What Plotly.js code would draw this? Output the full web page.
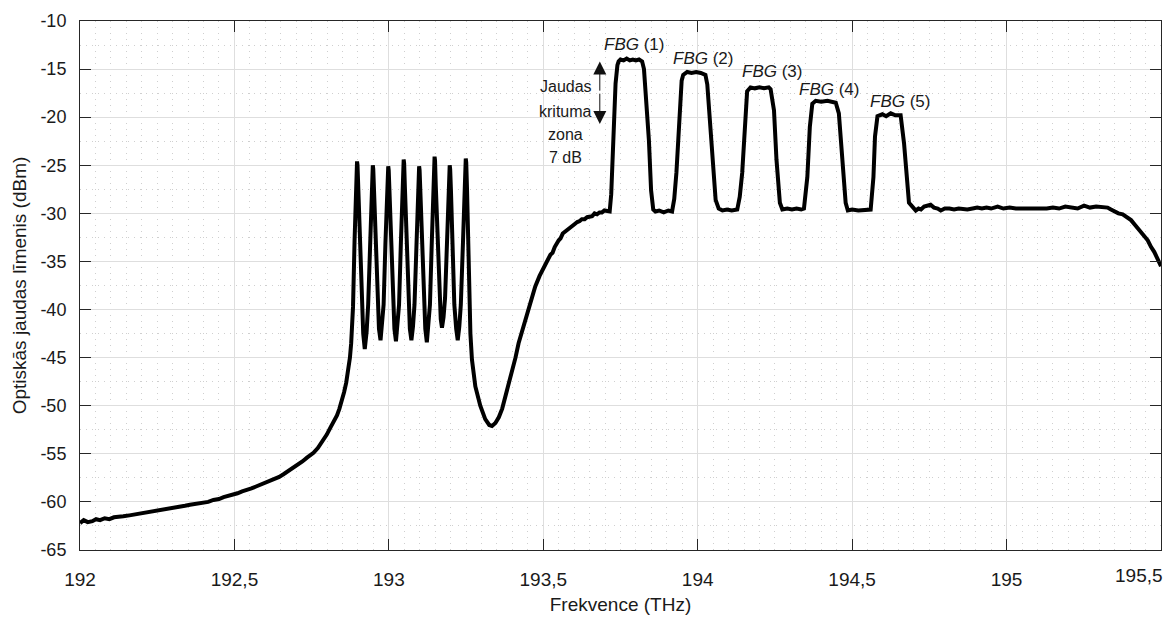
<!DOCTYPE html>
<html><head><meta charset="utf-8">
<script src="https://cdn.plot.ly/plotly-3.0.1.min.js"></script>
<style>html,body{margin:0;padding:0;background:#fff}#chart{width:1172px;height:623px}</style>
</head><body><div id="chart"></div>
<script>
// Spectrum readings (frequency in THz, optical power in dBm)
const freqTHz = [
192.000,192.012,192.025,192.040,192.052,192.065,192.080,192.095,192.110,192.125,
192.140,192.160,192.180,192.200,192.216,192.235,192.255,192.270,192.281,192.300,
192.320,192.340,192.356,192.375,192.395,192.415,192.432,192.450,192.465,192.480,
192.497,192.510,192.525,192.540,192.555,192.570,192.585,192.600,192.615,192.630,
192.645,192.660,192.675,192.691,192.705,192.720,192.735,192.756,192.770,192.785,
192.799,192.812,192.822,192.832,192.840,192.848,192.855,192.862,192.869,192.874,192.878,192.884,192.889,192.893,192.895,192.897,
192.8985,192.901,192.906,192.912,192.917,192.922,
192.928,192.933,192.939,192.944,192.9465,192.948,192.9495,192.952,192.957,192.963,192.968,192.973,
192.978,192.983,192.989,192.994,192.9965,192.998,192.9995,193.002,193.007,193.013,193.018,193.023,
193.028,193.033,193.039,193.044,193.0465,193.048,193.0495,193.052,193.057,193.063,193.068,193.073,
193.078,193.083,193.089,193.094,193.0965,193.098,193.0995,193.102,193.107,193.113,193.118,193.123,
193.128,193.133,193.139,193.144,193.1465,193.148,193.1495,193.152,193.157,193.163,193.168,193.172,
193.177,193.182,193.188,193.193,193.1955,193.197,193.1985,193.201,193.206,193.212,193.218,193.223,
193.228,193.233,193.240,193.245,193.2475,193.249,193.2505,193.253,193.258,193.264,193.269,193.280,
193.296,193.312,193.325,193.334,193.345,193.356,193.367,193.377,193.388,193.399,
193.410,193.420,193.434,193.448,193.461,193.474,193.488,193.501,193.512,193.523,
193.530,193.537,193.550,193.556,193.563,193.577,193.585,193.593,193.602,193.610,193.618,193.625,
193.634,193.642,193.650,193.658,193.666,193.674,193.682,193.690,193.698,193.707,193.715,
193.720,193.726,193.734,193.740,193.744,193.750,193.760,193.770,193.780,193.790,193.800,193.810,193.820,
193.826,193.831,193.842,193.849,193.856,193.863,193.875,193.890,193.905,193.917,
193.924,193.931,193.942,193.948,193.953,193.966,193.980,193.995,194.010,194.025,
194.031,194.036,194.047,194.058,194.068,194.080,194.095,194.110,194.128,
194.136,194.144,194.152,194.160,194.171,194.185,194.200,194.215,194.230,194.236,
194.247,194.255,194.266,194.274,194.290,194.305,194.320,194.335,194.344,
194.355,194.363,194.371,194.382,194.400,194.420,194.440,194.447,
194.457,194.468,194.479,194.486,194.500,194.520,194.540,194.560,
194.569,194.574,194.582,194.598,194.610,194.625,194.640,194.657,
194.668,194.677,194.684,194.695,194.706,194.715,194.723,194.733,194.742,194.754,
194.765,194.777,194.787,194.800,194.815,194.830,194.845,194.860,194.873,194.890,
194.905,194.920,194.935,194.950,194.971,194.990,195.010,195.030,195.050,195.070,
195.089,195.110,195.130,195.150,195.170,195.190,195.210,195.230,195.251,195.270,
195.290,195.310,195.327,195.338,195.348,195.362,195.376,195.390,195.403,195.416,
195.429,195.443,195.457,195.468,195.478,195.490,195.500
];
const powerDbm = [
-62.2,-61.9,-62.1,-62.0,-61.8,-61.9,-61.7,-61.8,-61.6,-61.6,
-61.5,-61.4,-61.3,-61.2,-61.1,-61.0,-60.9,-60.8,-60.8,-60.6,
-60.5,-60.4,-60.3,-60.2,-60.1,-60.0,-59.8,-59.7,-59.5,-59.4,
-59.2,-59.1,-58.9,-58.8,-58.6,-58.4,-58.2,-58.1,-57.9,-57.7,
-57.4,-57.1,-56.8,-56.5,-56.1,-55.8,-55.4,-54.9,-54.4,-53.7,
-53.0,-52.2,-51.6,-51.0,-50.3,-49.5,-48.6,-47.6,-46.3,-45.0,-43.5,-39.7,-32.8,-27.6,-25.5,-24.6,
-25.0,-27.6,-33.0,-39.5,-42.5,-44.1,
-42.3,-39.5,-33.0,-27.6,-25.4,-25.0,-25.4,-27.6,-33.0,-39.5,-42.0,-43.2,
-41.8,-39.5,-33.0,-27.6,-25.5,-25.1,-25.5,-27.6,-33.0,-39.5,-42.0,-43.3,
-41.8,-39.5,-33.0,-27.4,-24.8,-24.4,-24.8,-27.4,-33.0,-39.5,-42.0,-43.2,
-41.8,-39.5,-33.0,-27.6,-25.5,-25.1,-25.5,-27.6,-33.0,-39.5,-42.0,-43.4,
-41.8,-39.5,-33.0,-27.2,-24.5,-24.1,-24.5,-27.2,-32.5,-38.5,-41.0,-41.9,
-40.8,-38.8,-33.0,-27.6,-25.4,-25.0,-25.4,-27.6,-33.0,-39.5,-42.0,-43.2,
-41.8,-39.5,-33.0,-27.4,-24.7,-24.3,-24.7,-27.4,-36.0,-42.5,-45.2,-48.0,
-50.0,-51.4,-52.0,-52.1,-51.8,-51.2,-50.3,-49.1,-47.9,-46.6,
-45.0,-43.5,-41.9,-40.4,-39.0,-37.6,-36.5,-35.7,-35.0,-34.3,
-34.1,-33.5,-32.8,-32.6,-32.1,-31.7,-31.6,-31.3,-31.1,-30.9,-30.8,-30.6,
-30.6,-30.4,-30.3,-30.3,-30.0,-30.1,-29.9,-29.9,-29.7,-29.7,-29.8,
-28.0,-22.4,-16.5,-14.6,-14.2,-14.0,-14.1,-13.9,-14.1,-14.0,-14.1,-14.0,-14.2,
-15.0,-17.2,-22.4,-27.6,-29.6,-29.8,-29.7,-29.9,-29.7,-29.8,
-28.5,-25.8,-18.9,-16.2,-15.6,-15.3,-15.4,-15.3,-15.4,-15.6,
-16.6,-18.9,-24.1,-28.6,-29.5,-29.7,-29.6,-29.7,-29.6,
-28.3,-25.8,-20.6,-17.3,-16.9,-17.0,-16.9,-17.0,-16.9,-17.1,
-19.3,-24.4,-28.9,-29.6,-29.5,-29.6,-29.5,-29.6,-29.5,
-26.2,-21.0,-18.6,-18.3,-18.4,-18.3,-18.4,-18.5,
-19.6,-24.4,-28.9,-29.7,-29.6,-29.7,-29.6,-29.6,
-26.2,-22.0,-19.9,-19.7,-19.9,-19.6,-19.8,-19.8,
-22.7,-26.9,-28.9,-29.3,-29.7,-29.5,-29.6,-29.3,-29.2,-29.1,
-29.4,-29.5,-29.7,-29.5,-29.5,-29.6,-29.5,-29.6,-29.6,-29.5,
-29.4,-29.5,-29.4,-29.5,-29.3,-29.5,-29.4,-29.5,-29.5,-29.6,
-29.5,-29.6,-29.5,-29.4,-29.5,-29.3,-29.4,-29.5,-29.2,-29.4,
-29.3,-29.4,-29.4,-29.6,-29.8,-30.0,-30.1,-30.4,-30.7,-31.2,
-31.7,-32.2,-32.8,-33.5,-34.0,-34.8,-35.5
];
const xTickVals = [192, 192.5, 193, 193.5, 194, 194.5, 195];
const xTickText = ['192', '192,5', '193', '193,5', '194', '194,5', '195'];
const xLastTickText = '195,5';
const yTickVals = [-65, -60, -55, -50, -45, -40, -35, -30, -25, -20, -15, -10];
const yTickText = ['-65', '-60', '-55', '-50', '-45', '-40', '-35', '-30', '-25', '-20', '-15', '-10'];
const fbgLabels = ['<i>FBG</i> (1)', '<i>FBG</i> (2)', '<i>FBG</i> (3)', '<i>FBG</i> (4)', '<i>FBG</i> (5)'];
const noteLines = ['Jaudas', 'krituma', 'zona', '7 dB'];

const FONT = 'Liberation Sans, Arial, sans-serif';
const TXT = '#1a1a1a';

const fbgPos = [[193.795, -12.49], [194.017, -13.85], [194.239, -15.27], [194.424, -17.17], [194.654, -18.39]];
const notePos = [-16.86, -19.36, -21.85, -24.24];

const annotations = [];
fbgLabels.forEach((t, i) => annotations.push({
  x: fbgPos[i][0], y: fbgPos[i][1], xref: 'x', yref: 'y', text: t, showarrow: false,
  font: {family: FONT, size: 17, color: TXT}, xanchor: 'center', yanchor: 'middle'
}));
noteLines.forEach((t, i) => annotations.push({
  x: 193.572, y: notePos[i], xref: 'x', yref: 'y', text: t, showarrow: false,
  font: {family: FONT, size: 16, color: TXT}, xanchor: 'center', yanchor: 'middle'
}));
// double arrow
annotations.push({x: 193.683, y: -14.2, ax: 193.683, ay: -17.4, xref: 'x', yref: 'y', axref: 'x', ayref: 'y',
  text: '', showarrow: true, arrowhead: 2, arrowsize: 2.6, arrowwidth: 1, arrowcolor: '#111'});
annotations.push({x: 193.683, y: -20.7, ax: 193.683, ay: -17.4, xref: 'x', yref: 'y', axref: 'x', ayref: 'y',
  text: '', showarrow: true, arrowhead: 2, arrowsize: 2.6, arrowwidth: 1, arrowcolor: '#111'});
// last x tick label kept inside the figure
annotations.push({x: 1, y: 0, xref: 'paper', yref: 'paper', text: xLastTickText, showarrow: false,
  xanchor: 'right', yanchor: 'middle', xshift: 4, yshift: -25, font: {family: FONT, size: 19, color: TXT}});

const axisCommon = {
  showline: true, linecolor: '#262626', linewidth: 1, mirror: 'ticks',
  ticks: 'inside', ticklen: 11, tickwidth: 1, tickcolor: '#262626',
  showgrid: true, gridcolor: '#dedede', gridwidth: 1, zeroline: false,
  tickfont: {family: FONT, size: 18, color: TXT}
};

const layout = {
  width: 1172, height: 623,
  margin: {l: 80, r: 11, t: 21, b: 73},
  paper_bgcolor: '#ffffff', plot_bgcolor: '#ffffff',
  showlegend: false,
  xaxis: Object.assign({}, axisCommon, {
    range: [192, 195.5], tickmode: 'array', tickvals: xTickVals, ticktext: xTickText,
    tickfont: {family: FONT, size: 19, color: TXT}, ticklabelstandoff: 12,
    minor: {dtick: 0.05, tick0: 192, showgrid: true, gridcolor: '#cfcfcf', griddash: '1px,5px', gridwidth: 1},
    title: {text: 'Frekvence (THz)', font: {family: FONT, size: 19, color: TXT}, standoff: 8}
  }),
  yaxis: Object.assign({}, axisCommon, {
    range: [-65, -10], tickmode: 'array', tickvals: yTickVals, ticktext: yTickText,
    ticklabelstandoff: 9,
    minor: {dtick: 2.5, tick0: -65, showgrid: true, gridcolor: '#cfcfcf', griddash: '1px,5px', gridwidth: 1},
    title: {text: 'Optiskās jaudas līmenis (dBm)', font: {family: FONT, size: 19, color: TXT}, standoff: 8}
  }),
  annotations: annotations
};

Plotly.newPlot('chart', [{
  x: freqTHz, y: powerDbm, type: 'scatter', mode: 'lines',
  line: {color: '#000000', width: 4}, hoverinfo: 'skip'
}], layout, {displayModeBar: false, staticPlot: true});
</script>
</body></html>
